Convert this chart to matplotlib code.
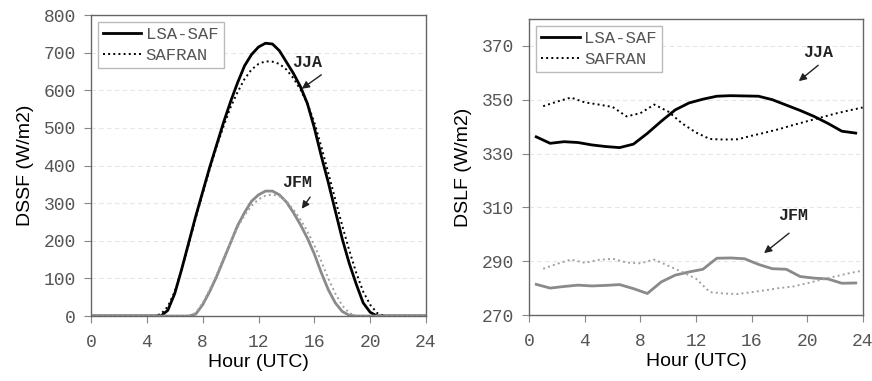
import numpy as np
from matplotlib import pyplot as plt

# left panel: DSSF, values every half hour from 0 to 24
hours_ss = np.arange(0, 24.5, 0.5)
dssf_lsa_jja = [0, 0, 0, 0, 0, 0, 0, 0, 0, 0, 0, 15, 60, 125, 195, 265, 330, 395,
                455, 515, 570, 620, 665, 695, 715, 725, 723, 705, 675, 645, 610,
                565, 500, 425, 355, 280, 205, 140, 85, 35, 10, 0, 0, 0, 0, 0, 0, 0, 0]
dssf_saf_jja = [0, 0, 0, 0, 0, 0, 0, 0, 0, 0, 5, 25, 65, 125, 190, 260, 325, 390,
                450, 505, 555, 595, 630, 655, 670, 677, 676, 670, 655, 632, 602,
                565, 515, 450, 380, 310, 240, 175, 115, 65, 30, 8, 0, 0, 0, 0, 0, 0, 0]
dssf_lsa_jfm = [0, 0, 0, 0, 0, 0, 0, 0, 0, 0, 0, 0, 0, 0, 0, 5, 30, 65, 105, 150,
                195, 240, 275, 305, 322, 332, 332, 322, 303, 275, 243, 207, 165,
                115, 70, 35, 12, 2, 0, 0, 0, 0, 0, 0, 0, 0, 0, 0, 0]
dssf_saf_jfm = [0, 0, 0, 0, 0, 0, 0, 0, 0, 0, 0, 0, 0, 0, 0, 8, 35, 70, 110, 155,
                195, 235, 268, 293, 310, 320, 323, 318, 305, 283, 257, 225, 188,
                145, 100, 60, 28, 8, 0, 0, 0, 0, 0, 0, 0, 0, 0, 0, 0]

# right panel: DSLF, LSA-SAF at half hours, SAFRAN at full hours
hours_lsa = np.arange(0.5, 24, 1.0)
hours_saf = np.arange(1, 25, 1.0)
dslf_lsa_jja = [336.2, 333.8, 334.4, 334.1, 333.2, 332.6, 332.2, 333.5, 337.5, 342.0,
                346.2, 348.8, 350.2, 351.3, 351.5, 351.4, 351.3, 350.0, 348.0, 346.0,
                343.8, 341.2, 338.3, 337.6]
dslf_saf_jja = [347.6, 349.3, 350.8, 349.0, 348.2, 347.3, 343.8, 345.0, 348.2, 345.6,
                341.2, 337.8, 335.4, 335.2, 335.3, 336.6, 337.8, 339.1, 340.6, 342.0,
                343.4, 344.8, 346.0, 347.1]
dslf_lsa_jfm = [281.4, 280.0, 280.6, 281.1, 280.8, 281.0, 281.3, 279.8, 278.0, 282.3,
                284.8, 286.0, 287.0, 291.1, 291.2, 290.9, 288.8, 287.2, 287.0, 284.3,
                283.7, 283.4, 281.8, 281.9]
dslf_saf_jfm = [287.2, 289.0, 290.6, 289.4, 290.5, 290.9, 289.5, 289.2, 290.6, 288.3,
                286.0, 283.5, 278.5, 278.0, 277.8, 278.5, 279.2, 280.0, 280.6, 281.8,
                283.1, 284.3, 285.5, 286.5]

gris = "#8a8a8a"
gris_clair = "#a0a0a0"
tick_col = "#555555"
mono = "Liberation Mono"
sans = "Liberation Sans"

fig = plt.figure(figsize=(8.72, 3.81), dpi=100)
ax1 = fig.add_axes([0.1044, 0.1706, 0.3841, 0.7900])
ax2 = fig.add_axes([0.6070, 0.1732, 0.3823, 0.7770])


def habille(ax, ylim, yticks, ylabel):
    ax.set_xlim(0, 24)
    ax.set_ylim(*ylim)
    ax.set_xticks(np.arange(0, 25, 4))
    ax.set_yticks(yticks)
    for lab in ax.get_xticklabels() + ax.get_yticklabels():
        lab.set_fontfamily(mono)
        lab.set_fontsize(13)
        lab.set_color(tick_col)
    ax.tick_params(length=5, width=0.8, color="#888888")
    ax.tick_params(axis="y", pad=6)
    ax.tick_params(axis="x", pad=8)
    ax.yaxis.grid(True, color="#e6e6e6", linestyle=(0, (4, 3)), linewidth=0.8)
    ax.set_axisbelow(True)
    for s in ax.spines.values():
        s.set_color("#666666")
        s.set_linewidth(1.0)
    ax.set_xlabel("Hour (UTC)", fontfamily=sans, fontsize=14, labelpad=2)
    ax.set_ylabel(ylabel, fontfamily=sans, fontsize=14, labelpad=7)


def legende(ax):
    leg = ax.legend(loc="upper left", prop={"family": mono, "size": 12.5},
                    handlelength=2.2, handletextpad=0.25, borderpad=0.3,
                    labelspacing=0.3, fancybox=False, framealpha=1,
                    borderaxespad=0.4)
    leg.get_frame().set_edgecolor("#bbbbbb")
    leg.get_frame().set_linewidth(1.0)
    for t in leg.get_texts():
        t.set_color("#555555")


def fleche(ax, texte, xy_txt, xy_from, xy_to):
    ax.text(xy_txt[0], xy_txt[1], texte, fontfamily=mono, fontweight="bold",
            fontsize=12, ha="center", va="center", color="#222222")
    ax.annotate("", xy=xy_to, xytext=xy_from,
                arrowprops=dict(arrowstyle="-|>", color="#222222", lw=1.0,
                                mutation_scale=11, shrinkA=0, shrinkB=0))


# --- DSSF
ax1.plot(hours_ss, dssf_lsa_jja, "-", color="black", lw=2.0, label="LSA-SAF")
ax1.plot(hours_ss, dssf_saf_jja, ":", color="black", lw=1.4, label="SAFRAN")
ax1.plot(hours_ss, dssf_lsa_jfm, "-", color=gris, lw=2.0)
ax1.plot(hours_ss, dssf_saf_jfm, ":", color=gris_clair, lw=1.4)
habille(ax1, (0, 800), np.arange(0, 801, 100), "DSSF (W/m2)")
legende(ax1)
fleche(ax1, "JJA", (15.5, 675), (16.5, 641), (15.1, 604))
fleche(ax1, "JFM", (14.8, 354), (15.7, 316), (15.1, 285))

# --- DSLF
ax2.plot(hours_lsa, dslf_lsa_jja, "-", color="black", lw=2.0, label="LSA-SAF")
ax2.plot(hours_saf, dslf_saf_jja, ":", color="black", lw=1.4, label="SAFRAN")
ax2.plot(hours_lsa, dslf_lsa_jfm, "-", color=gris, lw=2.0)
ax2.plot(hours_saf, dslf_saf_jfm, ":", color=gris_clair, lw=1.4)
habille(ax2, (270, 380), np.arange(270, 371, 20), "DSLF (W/m2)")
legende(ax2)
fleche(ax2, "JJA", (20.8, 367.7), (20.8, 362.8), (19.4, 356.9))
fleche(ax2, "JFM", (19.0, 306.8), (18.7, 300.4), (16.9, 293.0))

plt.savefig("out.png", dpi=100)
